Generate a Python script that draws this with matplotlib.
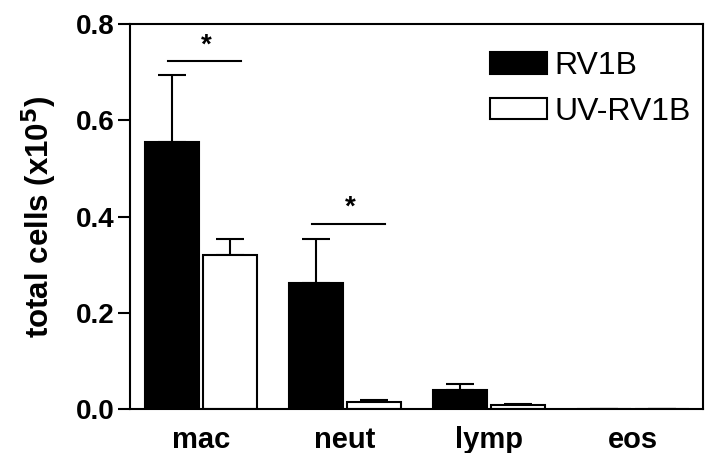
import numpy as np
import matplotlib.pyplot as plt

plt.rcParams['font.family'] = ['Liberation Sans', 'DejaVu Sans']

categories = ['mac', 'neut', 'lymp', 'eos']
rv1b = [0.555, 0.262, 0.039, 0.0]
rv1b_err = [0.139, 0.091, 0.013, 0.0]
uv_rv1b = [0.320, 0.015, 0.008, 0.0]
uv_rv1b_err = [0.033, 0.003, 0.003, 0.0]
# significance bars: (category index, height)
sig = [(0, 0.723), (1, 0.385)]

fig = plt.figure(figsize=(7.06, 4.53), dpi=100)
ax = fig.add_axes([0.184, 0.097, 0.812, 0.850])

ind = np.arange(len(categories))
width = 0.375
off = 0.2

ax.bar(ind - off, rv1b, width, color='black', edgecolor='black',
       linewidth=1.5, label='RV1B', zorder=2)
ax.bar(ind + off, uv_rv1b, width, color='white', edgecolor='black',
       linewidth=1.5, label='UV-RV1B', zorder=2)

ax.errorbar(ind - off, rv1b, yerr=[np.zeros(4), rv1b_err], fmt='none',
            ecolor='black', elinewidth=1.5, capsize=10, capthick=1.5, zorder=1)
ax.errorbar(ind + off, uv_rv1b, yerr=[np.zeros(4), uv_rv1b_err], fmt='none',
            ecolor='black', elinewidth=1.5, capsize=10, capthick=1.5, zorder=1)

for i, h in sig:
    ax.plot([i - 0.23, i + 0.28], [h, h], color='black', linewidth=1.5)
    ax.text(i + 0.04, h + 0.006, '*', ha='center', va='bottom',
            fontsize=20, fontweight='bold')

ax.set_xlim(-0.493, 3.486)
ax.set_ylim(0, 0.8)
ax.set_yticks([0.0, 0.2, 0.4, 0.6, 0.8])
ax.set_yticklabels(['0.0', '0.2', '0.4', '0.6', '0.8'],
                   fontsize=20, fontweight='bold')
ax.set_xticks(ind)
ax.set_xticklabels(categories, fontsize=21, fontweight='bold')
ax.tick_params(axis='x', length=0, pad=12)
ax.tick_params(axis='y', length=9, width=1.5, pad=2)
for s in ax.spines.values():
    s.set_linewidth(1.5)

ax.set_ylabel('total cells (x10$^\\mathbf{5}$)', fontsize=22.5,
              fontweight='bold', labelpad=12)

ax.legend(loc='upper left', fontsize=23, frameon=False,
          handlelength=1.78, handleheight=0.66, handletextpad=0.25,
          labelspacing=0.5, borderaxespad=0, borderpad=0,
          bbox_to_anchor=(0.628, 0.93))

fig.savefig('out.png', dpi=100)
